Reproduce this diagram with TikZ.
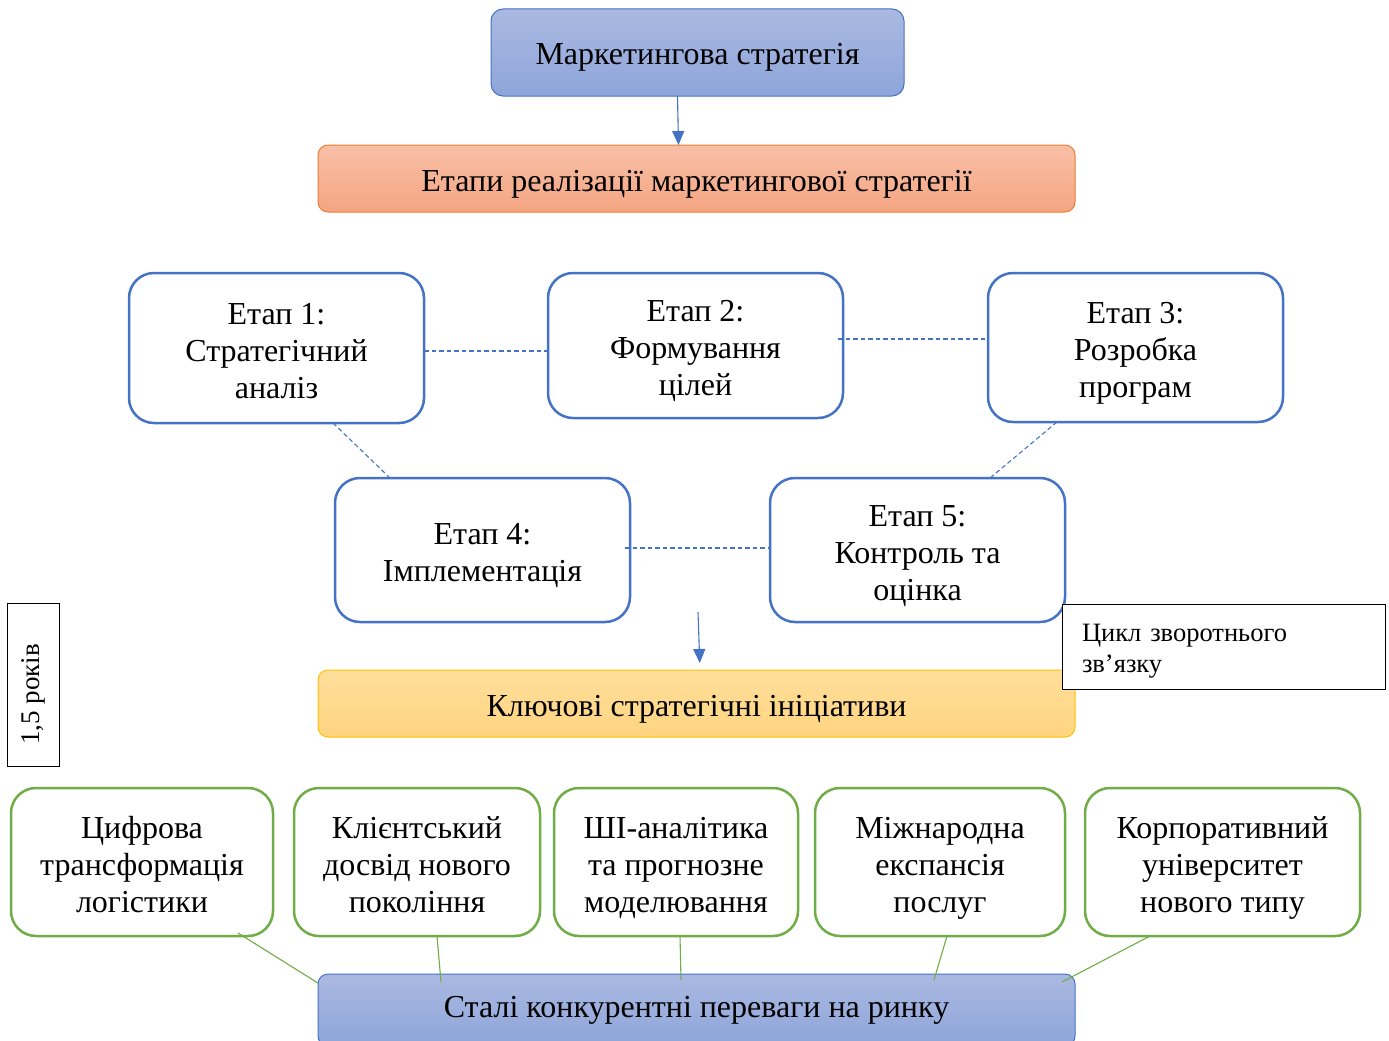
\documentclass[tikz,border=0pt]{standalone}
\usepackage{fontspec}
\setmainfont{Liberation Serif}
\usetikzlibrary{calc,arrows.meta}
\definecolor{mblue}{HTML}{4472C4}
\definecolor{btop}{HTML}{AAB9E1}
\definecolor{bbot}{HTML}{8EA5DA}
\definecolor{otop}{HTML}{F8C0A7}
\definecolor{obot}{HTML}{F4A582}
\definecolor{oline}{HTML}{ED7D31}
\definecolor{ytop}{HTML}{FFDF9C}
\definecolor{ybot}{HTML}{FFD47F}
\definecolor{yline}{HTML}{FFC000}
\definecolor{mgreen}{HTML}{70AD47}
\newcommand{\upstrut}{\rule{0pt}{34pt}}
\newcommand{\dnstrut}{\rule[-8pt]{0pt}{8pt}}
\newcommand{\fbup}{\rule{0pt}{28pt}}
\newcommand{\fbdn}{\rule[-7pt]{0pt}{7pt}}
\tikzset{
  x=1pt, y=-1pt,
  every node/.style={inner sep=0pt, outer sep=0pt},
  bluebar/.style={draw=mblue, line width=1pt, rounded corners=12pt, top color=btop, bottom color=bbot, font=\fontsize{32}{37}\selectfont, align=center},
  orangebar/.style={draw=oline, line width=1pt, rounded corners=10pt, top color=otop, bottom color=obot, font=\fontsize{32}{37}\selectfont, align=center},
  yellowbar/.style={draw=yline, line width=1pt, rounded corners=10pt, top color=ytop, bottom color=ybot, font=\fontsize{32}{37}\selectfont, align=center},
  stagebox/.style={draw=mblue, line width=2.5pt, rounded corners=25pt, fill=white, font=\fontsize{32}{37}\selectfont, align=center, minimum width=295pt},
  greenbox/.style={draw=mgreen, line width=2.5pt, rounded corners=25pt, fill=white, font=\fontsize{32}{37}\selectfont, align=center, minimum height=148pt},
  plainbox/.style={draw=black, line width=1pt, fill=white},
  dashlink/.style={draw=mblue, line width=1.1pt, dash pattern=on 4.5pt off 3pt},
  greenlink/.style={draw=mgreen, line width=1.1pt},
  bluearrow/.style={draw=mblue, line width=1.1pt, -{Triangle[length=14pt,width=12pt]}},
}
\begin{document}
\begin{tikzpicture}
\useasboundingbox (0,0) rectangle (1389,1041);

\node[bluebar, minimum width=413pt, minimum height=87pt, text height=30pt, text depth=5pt] (top) at (697.5,52.5) {Маркетингова стратегія};
\node[orangebar, minimum width=757pt, minimum height=67pt, text height=30pt, text depth=5pt] (stages) at (696.5,178.5) {Етапи реалізації маркетингової стратегії};

\node[stagebox, minimum height=150pt] (e1) at (276.5,348) {\upstrut Етап 1:\\Стратегічний\\аналіз\dnstrut};
\node[stagebox, minimum height=145pt] (e2) at (695.5,345.5) {\upstrut Етап 2:\\Формування\\цілей\dnstrut};
\node[stagebox, minimum height=149pt] (e3) at (1135.5,347.5) {\upstrut Етап 3:\\Розробка\\програм\dnstrut};
\node[stagebox, minimum height=144pt] (e4) at (482.5,550) {\upstrut Етап 4:\\Імплементація\dnstrut};
\node[stagebox, minimum height=144pt] (e5) at (917.5,550) {\upstrut Етап 5:\\Контроль та\\оцінка\dnstrut};

\node[yellowbar, minimum width=757pt, minimum height=67pt, text height=31pt, text depth=5pt] (init) at (696.5,703.5) {Ключові стратегічні ініціативи};

\node[plainbox, minimum width=323pt, minimum height=85pt, text width=283pt, align=left, font=\fontsize{26.5}{31}\selectfont] (fb) at (1223.5,646.5) {\fbup Цикл зворотнього\\зв’язку\fbdn};

\node[plainbox, minimum width=163pt, minimum height=52pt, rotate=90, font=\fontsize{27}{31}\selectfont] (yrs) at (33,684.5) {1,5 років\hspace*{20pt}};

\node[greenbox, minimum width=262pt] (g1) at (142,862) {\upstrut Цифрова\\трансформація\\логістики\dnstrut};
\node[greenbox, minimum width=246pt] (g2) at (417,862) {\upstrut Клієнтський\\досвід нового\\покоління\dnstrut};
\node[greenbox, minimum width=244pt] (g3) at (676,862) {\upstrut ШІ-аналітика\\та прогнозне\\моделювання\dnstrut};
\node[greenbox, minimum width=250pt] (g4) at (940,862) {\upstrut Міжнародна\\експансія\\послуг\dnstrut};
\node[greenbox, minimum width=275pt] (g5) at (1222.5,862) {\upstrut Корпоративний\\університет\\нового типу\dnstrut};

\node[bluebar, minimum width=757pt, minimum height=72pt, rounded corners=10pt] (adv) at (696.5,1010) {Сталі конкурентні переваги на ринку};

% arrows
\draw[bluearrow] ([xshift=-20pt]top.south) -- ([xshift=-18pt]stages.north);
\coordinate (a2s) at (698,612);
\draw[bluearrow, shorten >=7pt] (a2s) -- ([xshift=3.5pt]init.north);

% dashed links
\draw[dashlink] ([yshift=-3pt]e1.east) -- ([yshift=-3pt]e1.east -| e2.west);
\draw[dashlink] ([yshift=6.5pt,xshift=-5pt]e2.east) -- ([yshift=6.5pt]e2.east -| e3.west);
\draw[dashlink] ([xshift=56.5pt]e1.south) -- ([xshift=-92.5pt]e4.north);
\draw[dashlink] ([xshift=-78.5pt]e3.south) -- ([xshift=72.5pt]e5.north);
\draw[dashlink] ([yshift=2pt,xshift=-5pt]e4.east) -- ([yshift=2pt]e4.east -| e5.west);

% green links
\draw[greenlink] ([xshift=96pt,yshift=3pt]g1.south) -- ($(adv.north west)+(0,9)$);
\draw[greenlink] ([xshift=20pt]g2.south) -- ($(adv.north west)+(123,8)$);
\draw[greenlink] ([xshift=4pt]g3.south) -- ($(adv.north west)+(363,6)$);
\draw[greenlink] ([xshift=7pt]g4.south) -- ($(adv.north west)+(616,6)$);
\draw[greenlink] ([xshift=-72.5pt]g5.south) -- ($(adv.north west)+(744,8)$);
\end{tikzpicture}
\end{document}
